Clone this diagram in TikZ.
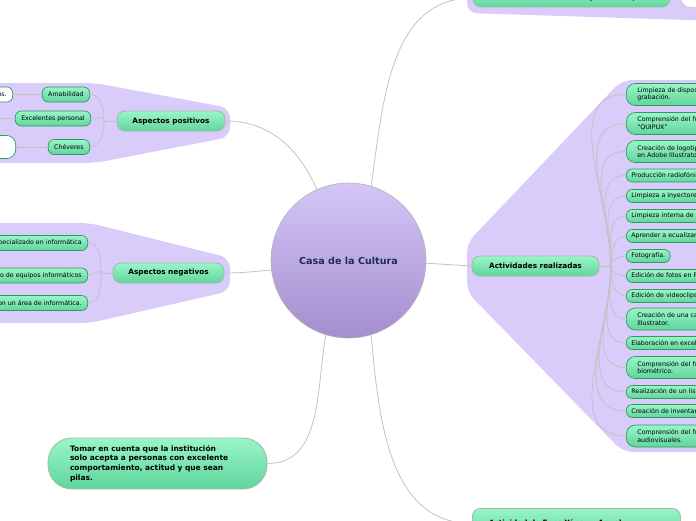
\documentclass[tikz,border=0pt]{standalone}
\usepackage{fontspec}
\setmainfont{DejaVu Sans}
\usetikzlibrary{positioning}

\definecolor{lila}{HTML}{D9CCFB}
\definecolor{greentop}{HTML}{9AF5C8}
\definecolor{greenbot}{HTML}{60D59C}
\definecolor{leafline}{HTML}{2E9960}
\definecolor{branchline}{HTML}{9DBFA9}
\definecolor{linkgray}{HTML}{C2C2C2}
\definecolor{circtop}{HTML}{D4C6F7}
\definecolor{circbot}{HTML}{A48ECE}
\definecolor{navy}{HTML}{1C2B5E}

\begin{document}
\begin{tikzpicture}[x=1pt, y=-1pt, line cap=round,
  link/.style={draw=linkgray, line width=0.8pt},
  region/.style={fill=lila, rounded corners=10pt},
  branch/.style={draw=branchline, line width=0.9pt, rounded corners=8pt,
    top color=greentop, bottom color=greenbot, minimum height=20pt,
    font=\fontsize{7.3}{9}\selectfont\bfseries},
  leaf/.style={draw=leafline, line width=0.7pt, rounded corners=6pt,
    top color=greentop, bottom color=greenbot, minimum height=15pt,
    inner xsep=6pt, font=\fontsize{6.3}{7.5}\selectfont},
  blank/.style={draw=leafline, line width=0.7pt, rounded corners=6pt,
    fill=white, minimum height=15pt, inner xsep=6pt,
    font=\fontsize{6.3}{7.5}\selectfont, align=left},
  actbox/.style={leaf, minimum height=13pt, inner xsep=5pt},
  actboxtall/.style={leaf, minimum height=22pt, inner xsep=11pt,
    rounded corners=9pt, align=left},
  note/.style={draw=branchline, line width=0.9pt, rounded corners=24pt,
    top color=greentop, bottom color=greenbot, align=left, inner xsep=22pt,
    font=\fontsize{7.5}{9.6}\selectfont\bfseries}]

  \useasboundingbox (0,0) rectangle (696,520);
  \clip (0,0) rectangle (696,520);

  % fondos
  \fill[region] (-20,83) -- (95,83) -- (230,108) -- (230,137) -- (95,163) -- (-20,163) -- cycle;
  \fill[region] (-20,223) -- (90,223) -- (230,258) -- (230,291) -- (90,323) -- (-20,323) -- cycle;
  \fill[region] (720,80) -- (622,80) -- (467,243) -- (467,292) -- (623,452) -- (720,452) -- cycle;
  \fill[region] (467,-20) -- (467,13) -- (720,21) -- (720,-20) -- cycle;

  \node[circle, draw=gray!60, line width=0.6pt, minimum size=155pt,
    top color=circtop, bottom color=circbot, text=navy,
    font=\fontsize{9.6}{11}\selectfont\bfseries] (casa) at (348.5,260.5) {Casa de la Cultura};

  \node[branch, minimum width=108pt] (positivos) at (171,121) {Aspectos positivos};
  \node[branch, minimum width=111pt] (negativos) at (168.5,273) {Aspectos negativos};
  \node[branch, minimum width=127pt] (actividades) at (535.5,266) {Actividades realizadas};
  \node[branch, minimum width=197pt, minimum height=18pt] (docentes) at (571.5,-2) {Docentes externos de la junta receptora};
  \node[draw=gray!50, line width=0.7pt, fill=white, rounded corners=10pt,
    minimum width=60pt, minimum height=30pt, anchor=south west] (vecino) at (680,8) {};
  \node[branch, minimum width=208pt, minimum height=30pt, anchor=north west,
    align=left, text width=175pt] (enos) at (472,508) {Actividad de Enos Yánez y Angel};
  \node[note, text width=175pt, minimum height=51pt] (tomar) at (157.5,463.5)
    {Tomar en cuenta que la institución\\solo acepta a personas con excelente\\comportamiento, actitud y que sean\\pilas.};

  % aspectos positivos
  \node[leaf, anchor=east] (amable) at (90,94.5) {Amabilidad};
  \node[leaf, anchor=east] (excel) at (91,118.5) {Excelentes personal};
  \node[leaf, anchor=east] (chevere) at (90,147) {Chéveres};
  \node[blank, anchor=east] (amable2) at (13,94.5) {Atentos y respetuosos.};
  \node[blank, anchor=east, minimum height=23pt, rounded corners=9pt,
    text width=100pt] (chevere2) at (16,147) {Buenas personas\\y amigables};
  \coordinate (excel2) at (-10,118.5);
  \coordinate (poshub) at (104,121);
  \draw[link] (positivos.west) -- (poshub);
  \draw[link] (poshub) to[out=90, in=0] (amable.east);
  \draw[link] (poshub) to[out=90, in=0] (excel.east);
  \draw[link] (poshub) to[out=-90, in=0] (chevere.east);
  \draw[link] (amable.west) -- (amable2.east);
  \draw[link] (excel.west) -- (excel2);
  \draw[link] (chevere.west) -- (chevere2.east);

  % aspectos negativos
  \node[leaf, anchor=east] (neg1) at (88,243) {No hay personal especializado en informática};
  \node[leaf, anchor=east] (neg2) at (88,275.5) {Falta de mantenimiento de equipos informáticos};
  \node[leaf, anchor=east] (neg3) at (88,303) {No cuenta con un área de informática.};
  \coordinate (neghub) at (101,273);
  \draw[link] (negativos.west) -- (neghub);
  \draw[link] (neghub) to[out=90, in=0] (neg1.east);
  \draw[link] (neghub) to[out=90, in=0] (neg2.east);
  \draw[link] (neghub) to[out=-90, in=0] (neg3.east);

  % actividades realizadas
  \coordinate (acthub) at (611,266);
  \draw[link] (actividades.east) -- (acthub);
  \foreach \yy/\txt [count=\i] in {
    94.5/{Limpieza de dispositivos de\\grabación.},
    123.5/{Comprensión del funcionamiento del\\``QUIPUX''},
    151.5/{Creación de logotipos\\en Adobe Illustrator.},
    319/{Creación de una caricatura en\\Illustrator.},
    367.5/{Comprensión del funcionamiento del\\biométrico.},
    436/{Comprensión del funcionamiento de equipos\\audiovisuales.}}{
    \pgfmathtruncatemacro\outang{\yy<266 ? 90 : -90}
    \node[actboxtall, anchor=west] (tall\i) at (626,\yy) {\txt};
    \draw[link] (acthub) to[out=\outang, in=180] (tall\i.west);
  }
  \foreach \yy/\txt [count=\i] in {
    175.5/{Producción radiofónica.},
    196/{Limpieza a inyectores de tinta.},
    216/{Limpieza interna de computadoras.},
    236/{Aprender a ecualizar audio.},
    256/{Fotografía.},
    276/{Edición de fotos en Photoshop.},
    296/{Edición de videoclips.},
    343/{Elaboración en excel de inventarios.},
    392/{Realización de un listado de equipos.},
    411/{Creación de inventarios.}}{
    \pgfmathtruncatemacro\outang{\yy<266 ? 90 : -90}
    \node[actbox, anchor=west] (act\i) at (626,\yy) {\txt};
    \draw[link] (acthub) to[out=\outang, in=180] (act\i.west);
  }

  % ramas principales
  \draw[link] (casa.114) to[out=114, in=0] (positivos.east);
  \draw[link] (casa.187) to[out=185, in=0] (negativos.east);
  \draw[link] (casa.-2) -- (actividades.west);
  \draw[link] (casa.73) to[out=82, in=180] (docentes.west);
  \draw[link] (casa.-73) to[out=-85, in=180] (enos.west);
  \draw[link] (casa.253) to[out=-100, in=0] (tomar.east);
\end{tikzpicture}
\end{document}
